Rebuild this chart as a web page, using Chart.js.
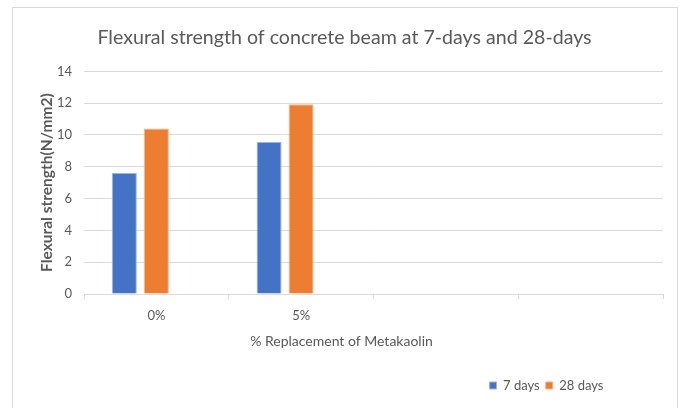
<!DOCTYPE html>
<html>
<head>
<meta charset="utf-8">
<script src="https://cdn.jsdelivr.net/npm/chart.js@4"></script>
<style>
    html, body { margin: 0; padding: 0; background: #fff; }
    #wrap { position: relative; width: 683px; height: 408px; overflow: hidden; }
    #frame {
        position: absolute; left: 12px; top: 7px; width: 666px; height: 420px;
        border: 1px solid #d9d9d9; box-sizing: border-box;
    }
    #chart_box { position: absolute; left: 0; top: 0; width: 683px; height: 408px; }
</style>
</head>
<body>
<div id="wrap">
    <div id="frame"></div>
    <div id="chart_box"><canvas id="strength_chart"></canvas></div>
</div>
<script>
// ---------- DATA ----------
const categories = ["0%", "5%", "", ""];
const sevenDays = [7.6, 9.55, null, null];
const twentyEightDays = [10.4, 11.93, null, null];
const emptySeries = [null, null, null, null];
const yTicks = [0, 2, 4, 6, 8, 10, 12, 14];

const textColor = "#595959";
const gridColor = "#d9d9d9";
const fontFamily = "Lato, 'Open Sans', sans-serif";

// nudge title, x title and legend to where the original sheet had them
const boxShift = {
    id: "boxShift",
    afterLayout(chart) {
        const lg = chart.legend;
        if (lg) {
            lg.left += 209;
            lg.right += 209;
        }
        const tt = chart.titleBlock;
        if (tt) {
            tt.left += 7;
            tt.right += 7;
        }
        const xs = chart.scales.x;
        if (xs && !xs._titleWrapped) {
            const orig = xs.drawTitle.bind(xs);
            xs.drawTitle = function () {
                const c = this.ctx;
                c.save();
                c.translate(-32, 0);
                orig();
                c.restore();
            };
            xs._titleWrapped = true;
        }
    },
};

const ctx = document.getElementById("strength_chart");

new Chart(ctx, {
    type: "bar",
    data: {
        labels: categories,
        datasets: [
            {
                label: "7 days",
                data: sevenDays,
                backgroundColor: "#4472c4",
                borderColor: "#9db3e2",
                borderWidth: 1,
            },
            {
                label: "28 days",
                data: twentyEightDays,
                backgroundColor: "#ed7d31",
                borderColor: "#f6b58a",
                borderWidth: 1,
            },
            {
                // empty third series, keeps the bar slots like the sheet
                label: "",
                data: emptySeries,
                backgroundColor: "#a5a5a5",
            },
        ],
    },
    options: {
        responsive: true,
        maintainAspectRatio: false,
        animation: false,
        categoryPercentage: 0.664,
        barPercentage: 0.78,
        layout: {
            padding: { left: 12, right: 20, top: 0, bottom: 6 },
        },
        plugins: {
            title: {
                display: true,
                text: "Flexural strength of concrete beam at 7-days and 28-days",
                color: textColor,
                font: { family: fontFamily, size: 19.6, weight: "normal", lineHeight: 1.2 },
                padding: { top: 26, bottom: 21.8 },
            },
            legend: {
                position: "bottom",
                labels: {
                    color: textColor,
                    font: { family: fontFamily, size: 13 },
                    boxWidth: 7,
                    boxHeight: 7,
                    padding: 6,
                    filter: (item) => item.text !== "",
                },
            },
            tooltip: { enabled: false },
        },
        scales: {
            x: {
                grid: {
                    offset: true,
                    drawOnChartArea: false,
                    color: gridColor,
                    tickLength: 5,
                },
                border: { color: gridColor },
                ticks: {
                    color: textColor,
                    font: { family: fontFamily, size: 13 },
                    padding: 9,
                    maxRotation: 0,
                },
                title: {
                    display: true,
                    text: "% Replacement of Metakaolin",
                    color: textColor,
                    font: { family: fontFamily, size: 14 },
                    padding: { top: 0, bottom: 23 },
                },
                afterFit: (scale) => {
                    scale.height = 79;
                },
            },
            y: {
                min: 0,
                max: 14,
                afterBuildTicks: (scale) => {
                    scale.ticks = yTicks.map((v) => ({ value: v }));
                },
                grid: { color: gridColor, drawTicks: false },
                border: { display: false },
                ticks: {
                    color: textColor,
                    font: { family: fontFamily, size: 13 },
                    padding: 12,
                },
                title: {
                    display: true,
                    text: "Flexural strength(N/mm2)",
                    color: textColor,
                    font: { family: fontFamily, size: 15.5, weight: "bold" },
                    padding: { top: 26, bottom: 0 },
                },
                afterFit: (scale) => {
                    scale.width = 72;
                },
            },
        },
    },
    plugins: [boxShift],
});
</script>
</body>
</html>
